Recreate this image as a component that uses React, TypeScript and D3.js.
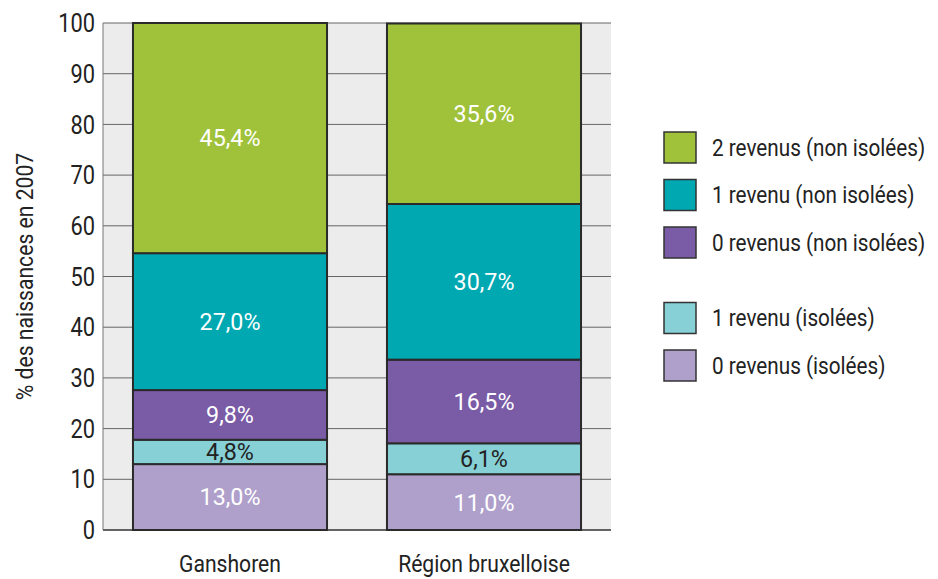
import React from "react";
import * as d3 from "d3";

const categories = ["Ganshoren", "Région bruxelloise"];
const seriesNames = [
  "0 revenus (isolées)",
  "1 revenu (isolées)",
  "0 revenus (non isolées)",
  "1 revenu (non isolées)",
  "2 revenus (non isolées)",
];
const ganshoren = [13.0, 4.8, 9.8, 27.0, 45.4];
const region = [11.0, 6.1, 16.5, 30.7, 35.6];
const labels = [
  ["13,0%", "4,8%", "9,8%", "27,0%", "45,4%"],
  ["11,0%", "6,1%", "16,5%", "30,7%", "35,6%"],
];
const colors = ["#afa0cb", "#86d0d6", "#7a5ba6", "#00a8b1", "#9fc23a"];
const labelColors = ["#ffffff", "#222222", "#ffffff", "#ffffff", "#ffffff"];
const yTicks = [0, 10, 20, 30, 40, 50, 60, 70, 80, 90, 100];

// legend order (top to bottom), with gap before isolées
const legendOrder = [4, 3, 2, 1, 0];

// condensed look: Roboto squeezed horizontally
function T({ x, y, sx = 0.84, size, anchor = "start", fill = "#222", rot = 0, children }: any) {
  return (
    <text
      transform={`translate(${x},${y}) rotate(${rot}) scale(${sx},1)`}
      dy="0.35em"
      textAnchor={anchor}
      fontSize={size}
      fill={fill}
    >
      {children}
    </text>
  );
}

export default function App() {
  const width = 938;
  const height = 579;
  const plot = { left: 103, right: 611, top: 23, bottom: 530 };

  const x = d3
    .scaleBand<string>()
    .domain(categories)
    .range([plot.left, plot.right])
    .paddingInner(0.236)
    .paddingOuter(0.118);

  const y = d3.scaleLinear().domain([0, 100]).range([plot.bottom, plot.top]);

  const table = categories.map((c, i) => {
    const vals = i === 0 ? ganshoren : region;
    const row: any = { cat: c };
    seriesNames.forEach((s, j) => (row[s] = vals[j]));
    return row;
  });
  const stacked = d3.stack().keys(seriesNames)(table);

  const legendY = (k: number) => 132 + k * 47.5 + (k >= 3 ? 28 : 0);

  return (
    <svg
      width={width}
      height={height}
      style={{ position: "absolute", left: 0, top: 0 }}
      fontFamily="Roboto, sans-serif"
    >
      <rect
        x={plot.left}
        y={plot.top}
        width={plot.right - plot.left}
        height={plot.bottom - plot.top}
        fill="#ececec"
      />
      {yTicks.map((t) => (
        <line
          key={t}
          x1={plot.left}
          x2={plot.right}
          y1={y(t)}
          y2={y(t)}
          stroke={t === 0 ? "#333" : "#666"}
          strokeWidth={t === 0 ? 1.5 : 1}
        />
      ))}
      <line x1={plot.left} x2={plot.left} y1={plot.top} y2={plot.bottom} stroke="#777" strokeWidth={1} />
      {yTicks.map((t) => (
        <T key={"t" + t} x={95} y={y(t)} size={26} anchor="end">
          {t}
        </T>
      ))}
      {stacked.map((layer, j) =>
        layer.map((d, i) => (
          <rect
            key={j + "-" + i}
            x={x(categories[i])}
            y={y(d[1])}
            width={x.bandwidth()}
            height={y(d[0]) - y(d[1])}
            fill={colors[j]}
            stroke="#2a2a2a"
            strokeWidth={2}
          />
        ))
      )}
      {stacked.map((layer, j) =>
        layer.map((d, i) => (
          <T
            key={"l" + j + "-" + i}
            x={(x(categories[i]) as number) + x.bandwidth() / 2}
            y={y((d[0] + d[1]) / 2)}
            size={24}
            sx={0.97}
            anchor="middle"
            fill={labelColors[j]}
          >
            {labels[i][j]}
          </T>
        ))
      )}
      {categories.map((c) => (
        <T
          key={c}
          x={(x(c) as number) + x.bandwidth() / 2}
          y={564}
          size={24}
          sx={0.88}
          anchor="middle"
        >
          {c}
        </T>
      ))}
      <T x={25} y={(plot.top + plot.bottom) / 2} rot={-90} size={23} sx={0.92} anchor="middle">
        % des naissances en 2007
      </T>
      {legendOrder.map((s, k) => (
        <g key={s} transform={`translate(664, ${legendY(k)})`}>
          <rect width={32} height={31} fill={colors[s]} stroke="#333" strokeWidth={1.5} />
          <T x={48} y={15.5} size={23} sx={0.9}>
            {seriesNames[s]}
          </T>
        </g>
      ))}
    </svg>
  );
}
